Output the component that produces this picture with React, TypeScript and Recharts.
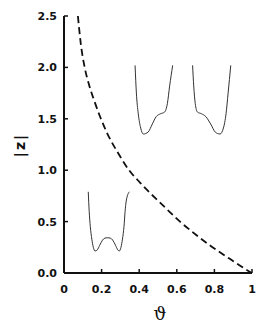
import { LineChart, Line, XAxis, YAxis } from 'recharts';

// ── Data ──────────────────────────────────────────

// dashed |z| vs theta curve
const curveTheta = [0.074, 0.09, 0.11, 0.135, 0.16, 0.19, 0.227, 0.29, 0.346, 0.404, 0.443, 0.511, 0.617, 0.7, 0.786, 0.88, 0.972, 1.0];
const curveZ = [2.5, 2.22, 2.0, 1.82, 1.68, 1.53, 1.37, 1.16, 1.0, 0.88, 0.805, 0.685, 0.5, 0.375, 0.256, 0.14, 0.03, 0];

// inset potential sketches (drawn in data coordinates)
const well1X = [0.129, 0.134, 0.14, 0.148, 0.156, 0.165, 0.177, 0.19, 0.205, 0.218, 0.232, 0.246, 0.259, 0.274, 0.286, 0.294, 0.303, 0.311, 0.319, 0.325, 0.331, 0.347];
const well1Y = [0.79, 0.6, 0.45, 0.33, 0.25, 0.214, 0.225, 0.27, 0.32, 0.34, 0.343, 0.34, 0.32, 0.27, 0.225, 0.214, 0.25, 0.33, 0.45, 0.6, 0.7, 0.79];

const well2X = [0.378, 0.385, 0.395, 0.408, 0.422, 0.447, 0.47, 0.49, 0.515, 0.535, 0.55, 0.562, 0.578];
const well2Y = [2.02, 1.75, 1.55, 1.41, 1.352, 1.37, 1.45, 1.52, 1.55, 1.565, 1.65, 1.82, 2.02];

const well3X = [0.684, 0.69, 0.698, 0.71, 0.73, 0.755, 0.78, 0.805, 0.83, 0.848, 0.862, 0.873, 0.887];
const well3Y = [2.02, 1.82, 1.65, 1.565, 1.55, 1.52, 1.45, 1.37, 1.352, 1.41, 1.55, 1.75, 2.02];

const xTicks = [0, 0.2, 0.4, 0.6, 0.8, 1];
const yTicks = [0, 0.5, 1.0, 1.5, 2.0, 2.5];

const zip = (xs: number[], ys: number[]) => xs.map((x, i) => ({ x, y: ys[i] }));

const curveData = zip(curveTheta, curveZ);
const well1 = zip(well1X, well1Y);
const well2 = zip(well2X, well2Y);
const well3 = zip(well3X, well3Y);

// ── Styles ────────────────────────────────────────

const INK = '#111';
const tickStyle = { fontFamily: 'DejaVu Sans', fontWeight: 'bold', fontSize: 11, fill: INK };
const axisLine = { stroke: INK, strokeWidth: 2 };
const tickLine = { stroke: INK, strokeWidth: 1.5 };

export default function App() {
  return (
    <div style={{ position: 'absolute', left: 0, top: 0, width: 269, height: 327, background: '#fff' }}>
      <LineChart width={269} height={327} margin={{ top: 16, right: 17, left: 0, bottom: 0 }}>
        <XAxis
          type="number"
          dataKey="x"
          domain={[0, 1]}
          ticks={xTicks}
          interval={0}
          height={54}
          tickSize={-4}
          tickMargin={16}
          axisLine={axisLine}
          tickLine={tickLine}
          tick={tickStyle}
          tickFormatter={(v: number) => (v === 0 || v === 1 ? String(v) : v.toFixed(1))}
          allowDataOverflow
        />
        <XAxis
          xAxisId="top"
          orientation="top"
          type="number"
          domain={[0, 1]}
          ticks={xTicks}
          interval={0}
          height={0}
          tickSize={-4}
          axisLine={axisLine}
          tickLine={tickLine}
          tickFormatter={() => ''}
        />
        <YAxis
          type="number"
          domain={[0, 2.5]}
          ticks={yTicks}
          interval={0}
          width={64}
          tickSize={-4}
          tickMargin={11}
          axisLine={axisLine}
          tickLine={tickLine}
          tick={tickStyle}
          tickFormatter={(v: number) => v.toFixed(1)}
          allowDataOverflow
        />
        <YAxis
          yAxisId="right"
          orientation="right"
          type="number"
          domain={[0, 2.5]}
          ticks={yTicks}
          interval={0}
          width={0}
          tickSize={-4}
          axisLine={axisLine}
          tickLine={tickLine}
          tickFormatter={() => ''}
        />
        <Line data={curveData} dataKey="y" type="monotone" stroke={INK} strokeWidth={1.8} strokeDasharray="7 4" dot={false} isAnimationActive={false} />
        <Line data={well1} dataKey="y" type="monotone" stroke="#333" strokeWidth={1} dot={false} isAnimationActive={false} />
        <Line data={well2} dataKey="y" type="monotone" stroke="#333" strokeWidth={1} dot={false} isAnimationActive={false} />
        <Line data={well3} dataKey="y" type="monotone" stroke="#333" strokeWidth={1} dot={false} isAnimationActive={false} />
      </LineChart>
      <div
        style={{
          position: 'absolute', left: 20, top: 145, transform: 'translate(-50%, -50%) rotate(-90deg)',
          fontFamily: 'DejaVu Sans', fontWeight: 'bold', fontSize: 14, letterSpacing: 2, color: INK, whiteSpace: 'nowrap', lineHeight: 1,
        }}
      >
        |z|
      </div>
      <div
        style={{
          position: 'absolute', left: 160, top: 314, transform: 'translate(-50%, -50%)',
          fontFamily: 'DejaVu Serif', fontSize: 18, color: INK, lineHeight: 1,
        }}
      >
        ϑ
      </div>
    </div>
  );
}
